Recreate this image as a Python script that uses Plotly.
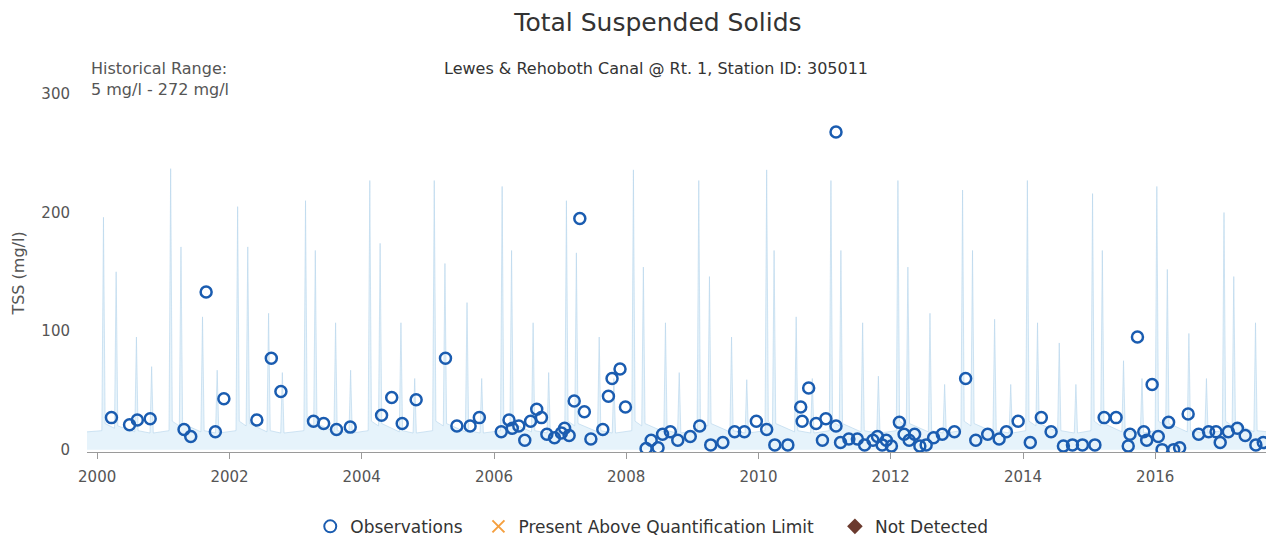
import plotly.graph_objects as go

obs_dates = [
    "2000-03-20", "2000-06-28", "2000-08-10", "2000-10-20", "2001-04-25", "2001-06-01",
    "2001-08-25", "2001-10-15", "2001-12-01", "2002-06-01", "2002-08-20", "2002-10-12",
    "2003-04-10", "2003-06-05", "2003-08-15", "2003-10-30", "2004-04-20", "2004-06-15",
    "2004-08-12", "2004-10-28", "2005-04-08", "2005-06-10", "2005-08-22", "2005-10-12",
    "2006-02-10", "2006-03-25", "2006-04-12", "2006-05-18", "2006-06-20", "2006-07-22",
    "2006-08-25", "2006-09-20", "2006-10-20", "2006-12-01", "2007-01-08", "2007-01-26",
    "2007-02-20", "2007-03-20", "2007-04-20", "2007-05-15", "2007-06-20", "2007-08-25",
    "2007-09-25", "2007-10-15", "2007-11-28", "2007-12-28", "2008-04-20", "2008-05-18",
    "2008-06-25", "2008-07-20", "2008-09-01", "2008-10-12", "2008-12-20", "2009-02-10",
    "2009-04-12", "2009-06-18", "2009-08-22", "2009-10-15", "2009-12-20", "2010-02-15",
    "2010-04-01", "2010-06-12", "2010-08-22", "2010-08-30", "2010-10-05", "2010-11-15",
    "2010-12-20", "2011-01-08", "2011-03-05", "2011-03-05", "2011-03-30", "2011-05-15",
    "2011-07-01", "2011-08-10", "2011-09-25", "2011-10-20", "2011-11-15", "2011-12-08",
    "2012-01-05", "2012-02-18", "2012-03-15", "2012-04-12", "2012-05-12", "2012-06-10",
    "2012-07-15", "2012-08-25", "2012-10-12", "2012-12-18", "2013-02-18", "2013-04-15",
    "2013-06-20", "2013-08-22", "2013-10-01", "2013-12-05", "2014-02-10", "2014-04-12",
    "2014-06-05", "2014-08-12", "2014-10-01", "2014-11-25", "2015-02-02", "2015-03-25",
    "2015-05-30", "2015-08-05", "2015-08-15", "2015-09-25", "2015-10-30", "2015-11-15",
    "2015-12-15", "2016-01-18", "2016-02-08", "2016-03-15", "2016-04-12", "2016-05-15",
    "2016-07-01", "2016-08-28", "2016-10-22", "2016-12-02", "2016-12-25", "2017-02-08",
    "2017-03-30", "2017-05-12", "2017-07-10", "2017-08-20",
]
obs_values = [
    27, 21, 25, 26, 17, 11,
    133, 15, 43, 25, 77, 49,
    24, 22, 17, 19, 29, 44,
    22, 42, 77, 20, 20, 27,
    15, 25, 18, 20, 8, 24,
    34, 27, 13, 10, 14, 18,
    12, 41, 195, 32, 9, 17,
    45, 60, 68, 36, 1, 8,
    1.5, 13, 15, 8, 11, 20,
    4, 6, 15, 15, 24, 17,
    4, 4, 36, 24, 52, 22,
    8, 26, 20, 268, 6, 9,
    9, 4, 8, 11, 4, 8,
    3, 23, 13, 8, 13, 3,
    4, 10, 13, 15, 60, 8,
    13, 9, 15, 24, 6, 27,
    15, 3, 4, 4, 4, 27,
    27, 3, 13, 95, 15, 8,
    55, 11, 0, 23, 0, 1.5,
    30, 13, 15, 15, 6, 15,
    18, 12, 4, 6, 12, 27,
]

# Pale background record behind the samples (seasonal spikes)
flow_dates = [
    "1999-11-06",
    "2000-01-27", "2000-02-05", "2000-02-14", "2000-04-06", "2000-04-15", "2000-04-24",
    "2000-07-27", "2000-08-05", "2000-08-14", "2000-10-19", "2000-10-28", "2000-11-06",
    "2001-02-01", "2001-02-10", "2001-02-19", "2001-03-30", "2001-04-08", "2001-04-17",
    "2001-07-27", "2001-08-05", "2001-08-14", "2001-10-16", "2001-10-25", "2001-11-03",
    "2002-02-06", "2002-02-15", "2002-02-24", "2002-04-03", "2002-04-12", "2002-04-21",
    "2002-07-27", "2002-08-05", "2002-08-14", "2002-10-11", "2002-10-20", "2002-10-29",
    "2003-02-16", "2003-02-25", "2003-03-06", "2003-04-11", "2003-04-20", "2003-04-29",
    "2003-08-01", "2003-08-10", "2003-08-19", "2003-10-23", "2003-11-01", "2003-11-10",
    "2004-02-06", "2004-02-15", "2004-02-24", "2004-04-03", "2004-04-12", "2004-04-21",
    "2004-07-27", "2004-08-05", "2004-08-14", "2004-10-11", "2004-10-20", "2004-10-29",
    "2005-01-27", "2005-02-05", "2005-02-14", "2005-03-27", "2005-04-05", "2005-04-14",
    "2005-07-27", "2005-08-05", "2005-08-14", "2005-10-16", "2005-10-25", "2005-11-03",
    "2006-02-06", "2006-02-15", "2006-02-24", "2006-03-30", "2006-04-08", "2006-04-17",
    "2006-07-27", "2006-08-05", "2006-08-14", "2006-10-21", "2006-10-30", "2006-11-08",
    "2007-01-27", "2007-02-05", "2007-02-14", "2007-03-23", "2007-04-01", "2007-04-10",
    "2007-07-27", "2007-08-05", "2007-08-14", "2007-10-16", "2007-10-25", "2007-11-03",
    "2008-02-01", "2008-02-10", "2008-02-19", "2008-03-27", "2008-04-05", "2008-04-14",
    "2008-07-27", "2008-08-05", "2008-08-14", "2008-10-11", "2008-10-20", "2008-10-29",
    "2009-01-27", "2009-02-05", "2009-02-14", "2009-03-27", "2009-04-05", "2009-04-14",
    "2009-07-27", "2009-08-05", "2009-08-14", "2009-10-19", "2009-10-28", "2009-11-06",
    "2010-02-06", "2010-02-15", "2010-02-24", "2010-03-19", "2010-03-28", "2010-04-06",
    "2010-07-19", "2010-07-28", "2010-08-06", "2010-10-16", "2010-10-25", "2010-11-03",
    "2011-01-27", "2011-02-05", "2011-02-14", "2011-03-23", "2011-04-01", "2011-04-10",
    "2011-07-21", "2011-07-30", "2011-08-08", "2011-10-16", "2011-10-25", "2011-11-03",
    "2012-02-01", "2012-02-10", "2012-02-19", "2012-03-27", "2012-04-05", "2012-04-14",
    "2012-07-27", "2012-08-05", "2012-08-14", "2012-10-16", "2012-10-25", "2012-11-03",
    "2013-01-23", "2013-02-01", "2013-02-10", "2013-03-19", "2013-03-28", "2013-04-06",
    "2013-07-19", "2013-07-28", "2013-08-06", "2013-10-16", "2013-10-25", "2013-11-03",
    "2014-01-16", "2014-01-25", "2014-02-03", "2014-03-13", "2014-03-22", "2014-03-31",
    "2014-07-11", "2014-07-20", "2014-07-29", "2014-10-11", "2014-10-20", "2014-10-29",
    "2015-01-11", "2015-01-20", "2015-01-29", "2015-03-06", "2015-03-15", "2015-03-24",
    "2015-07-01", "2015-07-10", "2015-07-19", "2015-10-11", "2015-10-20", "2015-10-29",
    "2016-01-01", "2016-01-10", "2016-01-19", "2016-02-28", "2016-03-08", "2016-03-17",
    "2016-06-26", "2016-07-05", "2016-07-14", "2016-10-01", "2016-10-10", "2016-10-19",
    "2017-01-06", "2017-01-15", "2017-01-24", "2017-03-01", "2017-03-10", "2017-03-19",
    "2017-06-29", "2017-07-08", "2017-07-17",
    "2017-09-15",
]
flow_values = [
    15,
    16, 196, 22, 18, 150, 20, 15, 95, 16, 14, 70, 14,
    16, 237, 24, 20, 171, 22, 15, 112, 16, 14, 67, 14,
    16, 205, 24, 20, 171, 22, 15, 115, 16, 14, 65, 14,
    16, 210, 24, 20, 168, 22, 15, 107, 16, 14, 67, 14,
    16, 227, 24, 20, 174, 22, 15, 107, 16, 14, 60, 14,
    16, 227, 24, 20, 157, 22, 15, 124, 16, 14, 60, 14,
    16, 222, 24, 20, 168, 22, 15, 107, 16, 14, 65, 14,
    16, 210, 24, 20, 166, 22, 15, 95, 16, 14, 60, 14,
    16, 236, 24, 20, 154, 22, 15, 107, 16, 14, 65, 14,
    16, 227, 24, 20, 146, 22, 15, 95, 16, 14, 59, 14,
    16, 236, 24, 20, 168, 22, 15, 112, 16, 14, 60, 14,
    16, 227, 24, 20, 168, 22, 15, 107, 16, 14, 62, 14,
    16, 227, 24, 20, 154, 22, 15, 115, 16, 14, 55, 14,
    16, 219, 24, 20, 168, 22, 15, 110, 16, 14, 55, 14,
    16, 227, 24, 20, 107, 22, 15, 90, 16, 14, 55, 14,
    16, 216, 24, 20, 168, 22, 15, 75, 16, 14, 60, 14,
    16, 222, 24, 20, 152, 22, 15, 98, 16, 14, 60, 14,
    16, 200, 24, 20, 146, 22, 15, 107, 16,
    15,
]

COLORS = {
    "obs": "#1a5cb0",
    "paql": "#f5a040",
    "nd": "#6b3a2e",
    "text": "#333333",
    "subtext": "#555555",
    "axis": "#9a9a9a",
}
FONT = "DejaVu Sans"
NBSP = "\u00a0"

fig = go.Figure()

# background record
fig.add_trace(go.Scatter(
    x=flow_dates,
    y=flow_values,
    mode="lines",
    line=dict(color="rgba(180,212,235,0.6)", width=1),
    fill="tozeroy",
    fillcolor="rgba(200,228,246,0.45)",
    hoverinfo="skip",
    showlegend=False
))

fig.add_trace(go.Scatter(
    x=obs_dates,
    y=obs_values,
    mode="markers",
    name="Observations" + NBSP * 2,
    marker=dict(symbol="circle-open", size=11, color=COLORS["obs"],
                line=dict(width=2.5, color=COLORS["obs"])),
    cliponaxis=True
))

# empty series that only exist for the legend
fig.add_trace(go.Scatter(
    x=[None], y=[None],
    mode="markers",
    name="Present Above Quantification Limit" + NBSP * 3,
    marker=dict(symbol="x-thin-open", size=10, color=COLORS["paql"],
                line=dict(width=2, color=COLORS["paql"]))
))
fig.add_trace(go.Scatter(
    x=[None], y=[None],
    mode="markers",
    name="Not Detected",
    marker=dict(symbol="diamond", size=11, color=COLORS["nd"])
))

# the page puts the figure 8px in from the top-left corner, so the figure is
# sized 8px smaller than the window and margins are set relative to that
fig.update_layout(
    width=1266,
    height=530,
    paper_bgcolor="white",
    plot_bgcolor="white",
    font=dict(family=FONT, color=COLORS["text"], size=14),
    margin=dict(l=79, r=6, t=86, b=86, autoexpand=False),
    title=dict(
        text="Total Suspended Solids",
        font=dict(size=25, color=COLORS["text"]),
        x=0.5134, xanchor="center",
        y=0.9736, yanchor="middle"
    ),
    legend=dict(
        orientation="h",
        x=0.4782, xanchor="center",
        y=-0.209, yanchor="middle",
        font=dict(size=17, color=COLORS["text"]),
        itemsizing="constant",
        tracegroupgap=0
    ),
    xaxis=dict(
        type="date",
        range=["1999-11-06", "2017-09-15"],
        dtick="M24",
        tick0="2000-01-01",
        tickformat="%Y",
        showgrid=False,
        zeroline=False,
        showline=True,
        linecolor=COLORS["axis"],
        linewidth=1,
        ticks="outside",
        ticklen=6,
        tickcolor=COLORS["axis"],
        ticklabelstandoff=5,
        tickfont=dict(size=15, color=COLORS["subtext"])
    ),
    yaxis=dict(
        range=[-2, 300],
        tickvals=[0, 100, 200, 300],
        showgrid=False,
        zeroline=False,
        showline=False,
        ticks="",
        ticklabelstandoff=16,
        tickfont=dict(size=15, color=COLORS["subtext"]),
        title=dict(text="TSS (mg/l)", font=dict(size=16, color=COLORS["subtext"]),
                   standoff=12)
    )
)

fig.add_annotation(
    text="Lewes &amp; Rehoboth Canal @ Rt. 1, Station ID: 305011",
    xref="paper", yref="paper",
    x=0.482, y=1.0726, xanchor="center", yanchor="middle",
    showarrow=False,
    font=dict(size=16, color=COLORS["text"])
)
fig.add_annotation(
    text="Historical Range:<br>5 mg/l - 272 mg/l",
    xref="paper", yref="paper",
    x=0.0017, y=1.043, xanchor="left", yanchor="middle",
    align="left",
    showarrow=False,
    font=dict(size=16, color=COLORS["subtext"])
)

fig.write_html("out.html")
